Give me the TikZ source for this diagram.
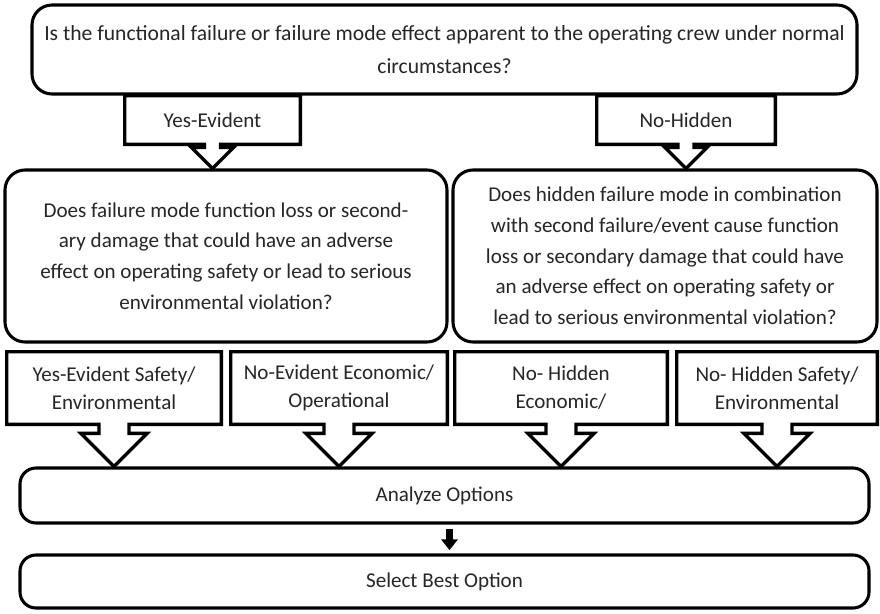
\documentclass[tikz,border=0pt]{standalone}
\usepackage{fontspec}
\setmainfont{Carlito}
\usetikzlibrary{calc,arrows.meta}

% outline of a box with a block arrow hanging from it down to #2
\newcommand{\downcallout}[4]{%
  \coordinate (#1-tip) at (#1.south |- #2.north);
  \draw[callout] (#1.north west) -- (#1.north east) -- (#1.south east)
    -- ($(#1.south)+(#3,0)$) -- ($(#1-tip)+(#3,-#4)$) -- ($(#1-tip)+(#4,-#4)$)
    -- (#1-tip)
    -- ($(#1-tip)+(-#4,-#4)$) -- ($(#1-tip)+(-#3,-#4)$) -- ($(#1.south)+(-#3,0)$)
    -- (#1.south west) -- cycle;}

\begin{document}
\begin{tikzpicture}[x=0.75pt, y=-0.75pt, line join=round]
  \definecolor{ink}{HTML}{262626}
  \path[use as bounding box] (0,0) rectangle (880,613);
  \fill[white] (0,0) rectangle (880,613);
  \tikzset{
    question/.style={draw, line width=2.3pt, rounded corners=15pt, text=ink,
      align=center, font=\fontsize{15.8}{23}\selectfont, inner sep=0pt},
    answer/.style={draw=none, text=ink, align=center,
      font=\fontsize{15.8}{21}\selectfont, inner sep=0pt},
    callout/.style={line width=2.6pt, fill=white, line join=miter},
    step box/.style={draw, line width=2.3pt, rounded corners=12pt, text=ink,
      font=\fontsize{15.8}{21}\selectfont, inner sep=0pt}
  }
  % top question
  \node[question, font=\fontsize{16.2}{24.5}\selectfont, minimum width=618.75pt, minimum height=66.75pt] (crew) at (444.5,49.5)
    {Is the functional failure or failure mode effect apparent to the operating crew under normal\\circumstances?};
  % second level questions
  \node[question, minimum width=331.5pt, minimum height=129pt] (evq) at (226,256)
    {Does failure mode function loss or second-\\ary damage that could have an adverse\\effect on operating safety or lead to serious\\environmental violation?};
  \node[question, minimum width=318pt, minimum height=129pt] (hidq) at (665,256)
    {Does hidden failure mode in combination\\with second failure/event cause function\\loss or secondary damage that could have\\an adverse effect on operating safety or\\lead to serious environmental violation?};
  % bottom steps
  \node[step box, minimum width=636.75pt, minimum height=41.25pt] (analyze) at (444.5,495.5) {Analyze Options};
  \node[step box, minimum width=636.75pt, minimum height=39.75pt] (select) at (444.5,581.5) {Select Best Option};
  \draw[line width=5pt, -{Triangle[width=12pt,length=8pt]}, shorten <=3pt, shorten >=2.5pt]
    ($(analyze.south)+(5,0)$) -- ($(select.north)+(5,0)$);
  % answer callouts, first level
  \node[answer, minimum width=131.25pt, minimum height=36pt] (yes) at (212.5,120) {};
  \downcallout{yes}{evq}{8}{21}
  \node[answer] at (yes) {Yes-Evident};
  \node[answer, minimum width=133.5pt, minimum height=36pt] (no) at (686,120) {};
  \downcallout{no}{hidq}{8}{21}
  \node[answer] at (no) {No-Hidden};
  % answer callouts, second level
  \node[answer, minimum width=160.5pt, minimum height=54pt] (evsafe) at (114,388) {};
  \downcallout{evsafe}{analyze}{15}{33}
  \node[answer] at (evsafe) {Yes-Evident Safety/\\Environmental};
  \node[answer, minimum width=162pt, minimum height=54pt] (eveco) at (339,388) {};
  \downcallout{eveco}{analyze}{15}{33}
  \node[answer] at (eveco) {No-Evident Economic/\\Operational};
  \node[answer, minimum width=159pt, minimum height=54pt] (hideco) at (561,388) {};
  \downcallout{hideco}{analyze}{15}{33}
  \node[answer] at (hideco) {No- Hidden\\Economic/};
  \node[answer, minimum width=150pt, minimum height=54pt] (hidsafe) at (777,388) {};
  \downcallout{hidsafe}{analyze}{15}{33}
  \node[answer] at (hidsafe) {No- Hidden Safety/\\Environmental};
\end{tikzpicture}
\end{document}
